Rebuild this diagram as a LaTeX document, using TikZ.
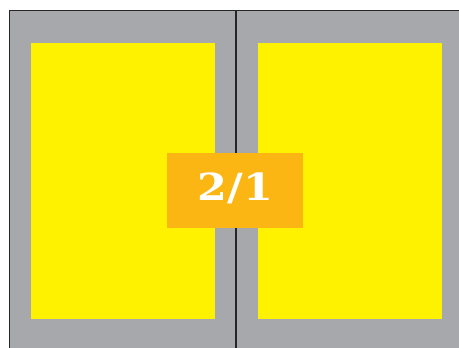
\documentclass[tikz,border=0pt]{standalone}
\usepackage{fontspec}
\newfontfamily\labelfont{DejaVu Serif}
\definecolor{panelgray}{RGB}{167,168,172}
\definecolor{pageyellow}{RGB}{255,242,0}
\definecolor{ratioorange}{RGB}{252,182,20}
\tikzset{
  frame line/.style={black!85, line width=0.9pt},
  ratio label/.style={text=white, font=\labelfont\fontsize{28}{28}\selectfont\bfseries, inner sep=0pt, xscale=1.15}
}
\begin{document}
\begin{tikzpicture}[x=0.75pt, y=-0.75pt]
        % 459 x 348 px, y grows downwards
        \useasboundingbox (0,0) rectangle (459,348);
        \fill[panelgray] (9,10) rectangle (459,348);
        \fill[pageyellow] (31,43) rectangle (215,319);
        \fill[pageyellow] (258,43) rectangle (442,319);
        \draw[frame line] (9.5,348) -- (9.5,10.5) -- (459,10.5);
        \draw[frame line] (236,10.5) -- (236,348);
        \fill[ratioorange] (167,153) rectangle (303,228);
        \node[ratio label, anchor=base] (ratio) at (235.5,201) {2/1};
      \end{tikzpicture}
\end{document}
